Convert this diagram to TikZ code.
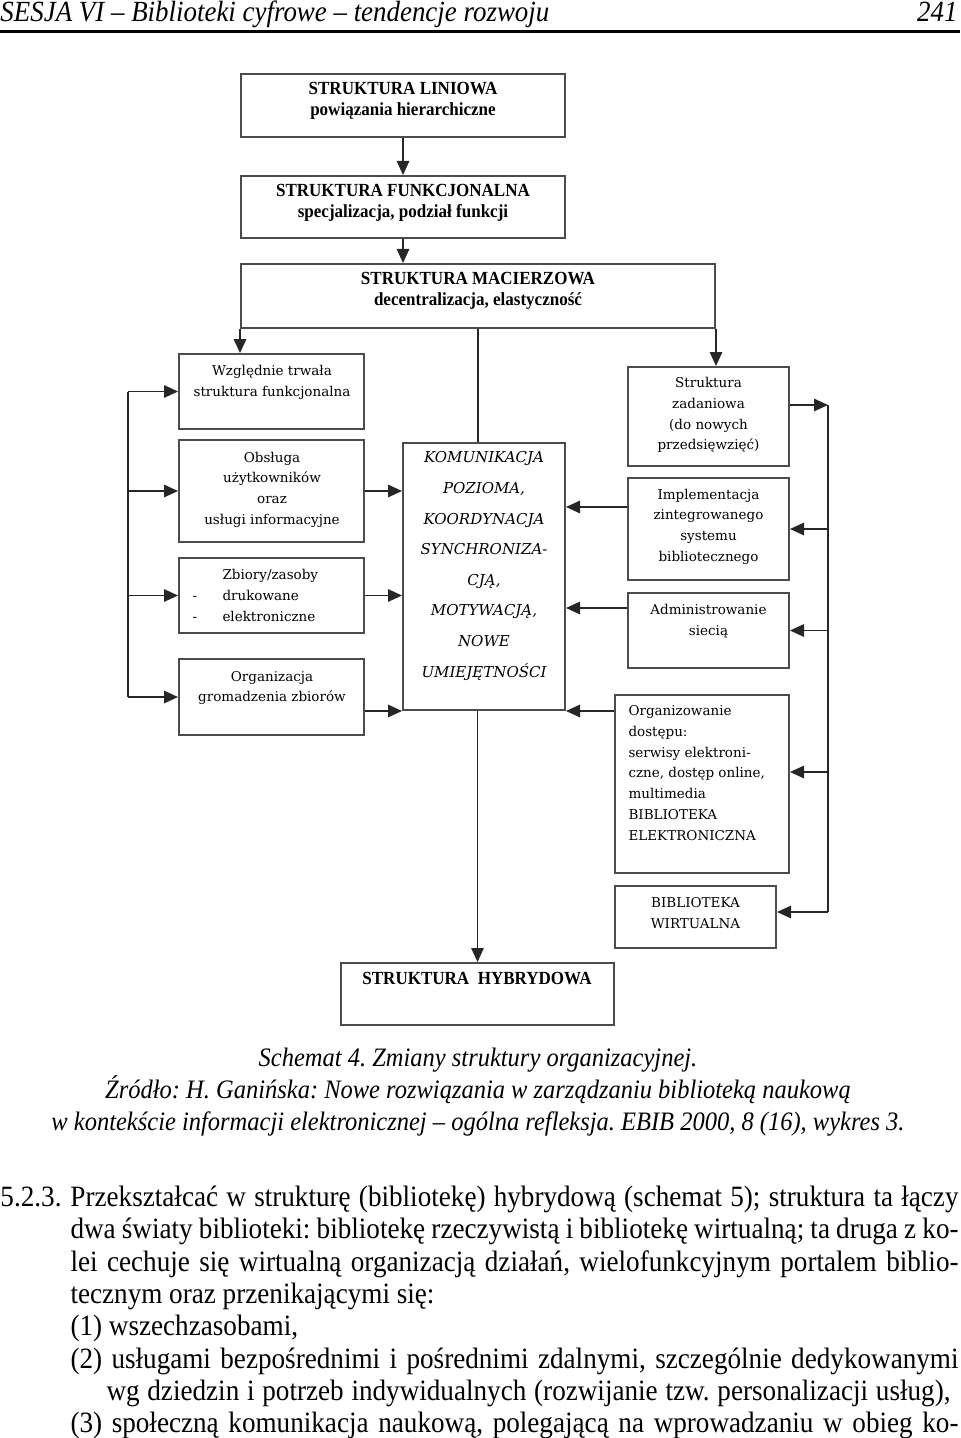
\documentclass[tikz,border=0pt]{standalone}
\usepackage{fontspec}
\setmainfont[FakeStretch=0.92]{Liberation Serif}
\newfontfamily\boxfont{DejaVu Serif}
\usetikzlibrary{arrows.meta,fit}
\newdimen\px
\px=0.4pt
\frenchspacing
\tikzset{
  boxframe/.style={draw=black!70,line width=0.8pt,inner sep=0pt},
  headtxt/.style={font=\fontsize{11.7pt}{14pt}\selectfont\itshape,inner sep=0pt},
  toptxt/.style={font=\fontsize{7.4pt}{8.4pt}\selectfont\bfseries,align=center,inner sep=0pt},
  sidetxt/.style={font=\boxfont\fontsize{5.4pt}{8.3pt}\selectfont,align=center,inner sep=0pt},
  listtxt/.style={sidetxt,align=left,anchor=west},
  komtxt/.style={font=\boxfont\itshape\fontsize{6pt}{12.25pt}\selectfont,align=center,inner sep=0pt},
  captxt/.style={font=\fontsize{10.65pt}{13pt}\selectfont\itshape,inner sep=0pt,anchor=base},
  bodytxt/.style={font=\fontsize{11.8pt}{13pt}\selectfont,inner sep=0pt,anchor=base west},
  link/.style={draw=black!85,line width=0.6pt},
  arrow/.style={link,-{Triangle[length=5.6pt,width=5pt]}}
}
\begin{document}
\begin{tikzpicture}[x=0.4pt,y=-0.4pt]
\useasboundingbox (0,0) rectangle (960,1438);
% running head
\node[headtxt,anchor=base west] (runhead) at (0,22) {SESJA VI – Biblioteki cyfrowe – tendencje rozwoju};
\node[headtxt,anchor=base east] (pageno) at (958,22) {241};
\draw[line width=1.2pt] (0,32) -- (960,32);

% main chain
\node[boxframe,fit={(241,74) (565,137)}] (liniowa) {};
\node[toptxt] (liniowa-t) at (403,101) {STRUKTURA LINIOWA\\powiązania hierarchiczne};
\node[boxframe,fit={(241,176) (565,238)}] (funkc) {};
\node[toptxt] (funkc-t) at (403,203) {STRUKTURA FUNKCJONALNA\\specjalizacja, podział funkcji};
\node[boxframe,fit={(241,264) (715,328)}] (macierz) {};
\node[toptxt] (macierz-t) at (478,291) {STRUKTURA MACIERZOWA\\decentralizacja, elastyczność};

% left column
\node[boxframe,fit={(179,354) (364,429)}] (wzgl) {};
\node[sidetxt] (wzgl-t) at (272,382.5) {Względnie trwała\\struktura funkcjonalna};
\node[boxframe,fit={(179,440) (364,542)}] (obsl) {};
\node[sidetxt] (obsl-t) at (272,489.5) {Obsługa\\użytkowników\\oraz\\usługi informacyjne};
\node[boxframe,fit={(179,558) (364,633)}] (zbiory) {};
\node[listtxt] (zbiory-t) at (192,595.5) {\makebox[30\px][l]{}Zbiory/zasoby\\\makebox[30\px][l]{-}drukowane\\\makebox[30\px][l]{-}elektroniczne};
\node[boxframe,fit={(179,659) (364,735)}] (gromadz) {};
\node[sidetxt] (gromadz-t) at (272,688) {Organizacja\\gromadzenia zbiorów};

% centre
\node[boxframe,fit={(403,443) (565,710)}] (kom) {};
\node[komtxt] (kom-t) at (484,566) {KOMUNIKACJA\\POZIOMA,\\KOORDYNACJA\\SYNCHRONIZA-\\CJĄ,\\MOTYWACJĄ,\\NOWE\\UMIEJĘTNOŚCI};

% right column
\node[boxframe,fit={(628,367) (789,466)}] (zadan) {};
\node[sidetxt] (zadan-t) at (708.5,415) {Struktura\\zadaniowa\\(do nowych\\przedsięwzięć)};
\node[boxframe,fit={(628,478) (789,580)}] (implem) {};
\node[sidetxt] (implem-t) at (708.5,526.5) {Implementacja\\zintegrowanego\\systemu\\bibliotecznego};
\node[boxframe,fit={(628,593) (789,668)}] (admin) {};
\node[sidetxt] (admin-t) at (708.5,621) {Administrowanie\\siecią};
\node[boxframe,fit={(615,695) (789,873)}] (dostep) {};
\node[listtxt] (dostep-t) at (628,773) {Organizowanie\\dostępu:\\serwisy elektroni-\\czne, dostęp online,\\multimedia\\BIBLIOTEKA\\ELEKTRONICZNA};
\node[boxframe,fit={(615,886) (776,948)}] (wirt) {};
\node[sidetxt] (wirt-t) at (695.5,913) {BIBLIOTEKA\\WIRTUALNA};

% hybrid
\node[boxframe,fit={(341,963) (614,1025)}] (hybr) {};
\node[toptxt] (hybr-t) at (477,979) {STRUKTURA\ \ HYBRYDOWA};

% connectors, top
\draw[arrow] (liniowa) -- (funkc);
\draw[arrow] (funkc.south) -- (funkc.south |- macierz.north);
\draw[arrow] (macierz.south west) -- (macierz.south west |- wzgl.north);
\draw[link] (macierz.south) -- (macierz.south |- kom.north);
\draw[arrow] (macierz.south east) -- (macierz.south east |- zadan.north);
\draw[arrow] (hybr.north |- kom.south) -- (hybr.north);

% left bus
\coordinate (lbus) at (128,0);
\draw[link] (lbus |- wzgl.west) -- (lbus |- gromadz.west);
\foreach \n in {wzgl,obsl,zbiory,gromadz}
  \draw[arrow] (lbus |- \n.west) -- (\n.west);
\draw[arrow] (obsl.east) -- (obsl.east -| kom.west);
\draw[arrow] (zbiory.east) -- (zbiory.east -| kom.west);
\draw[arrow] (kom.south west -| gromadz.east) -- (kom.south west);

% right side into centre
\coordinate (implem-out) at ([yshift=8.8pt]implem.west);
\coordinate (admin-out) at ([yshift=9pt]admin.west);
\draw[arrow] (implem-out) -- (implem-out -| kom.east);
\draw[arrow] (admin-out) -- (admin-out -| kom.east);
\draw[arrow] (kom.south east -| dostep.west) -- (kom.south east);

% right bus
\coordinate (rbus) at (828,0);
\coordinate (zadan-out) at ([yshift=4.6pt]zadan.east);
\coordinate (dostep-in) at ([yshift=4.8pt]dostep.east);
\coordinate (wirt-in) at ([yshift=2pt]wirt.east);
\draw[arrow] (zadan-out) -- (zadan-out -| rbus);
\draw[link] (zadan-out -| rbus) -- (wirt-in -| rbus);
\draw[arrow] (rbus |- implem.east) -- (implem.east);
\draw[arrow] (rbus |- admin.east) -- (admin.east);
\draw[arrow] (rbus |- dostep-in) -- (dostep-in);
\draw[arrow] (rbus |- wirt-in) -- (wirt-in);

% caption
\node[captxt] (cap1) at (478,1066) {Schemat 4. Zmiany struktury organizacyjnej.};
\node[captxt] (cap2) at (478,1098) {Źródło: H. Ganińska: Nowe rozwiązania w zarządzaniu biblioteką naukową};
\node[captxt] (cap3) at (478,1130) {w kontekście informacji elektronicznej – ogólna refleksja. EBIB 2000, 8 (16), wykres 3.};

% body text
\node[bodytxt] (par1) at (0,1206) {\makebox[70\px][l]{5.2.3.}\makebox[888\px][s]{Przekształcać w strukturę (bibliotekę) hybrydową (schemat 5); struktura ta łączy}};
\node[bodytxt] (par2) at (70,1238) {\makebox[888\px][s]{dwa światy biblioteki: bibliotekę rzeczywistą i bibliotekę wirtualną; ta druga z ko-}};
\node[bodytxt] (par3) at (70,1271) {\makebox[888\px][s]{lei cechuje się wirtualną organizacją działań, wielofunkcyjnym portalem biblio-}};
\node[bodytxt] (par4) at (70,1303) {tecznym oraz przenikającymi się:};
\node[bodytxt] (par5) at (70,1335) {(1) wszechzasobami,};
\node[bodytxt] (par6) at (70,1368) {\makebox[888\px][s]{(2) usługami bezpośrednimi i pośrednimi zdalnymi, szczególnie dedykowanymi}};
\node[bodytxt] (par7) at (106,1400) {\makebox[844\px][s]{wg dziedzin i potrzeb indywidualnych (rozwijanie tzw. personalizacji usług),}};
\node[bodytxt] (par8) at (70,1432) {\makebox[888\px][s]{(3) społeczną komunikacja naukową, polegającą na wprowadzaniu w obieg ko-}};
\end{tikzpicture}
\end{document}
